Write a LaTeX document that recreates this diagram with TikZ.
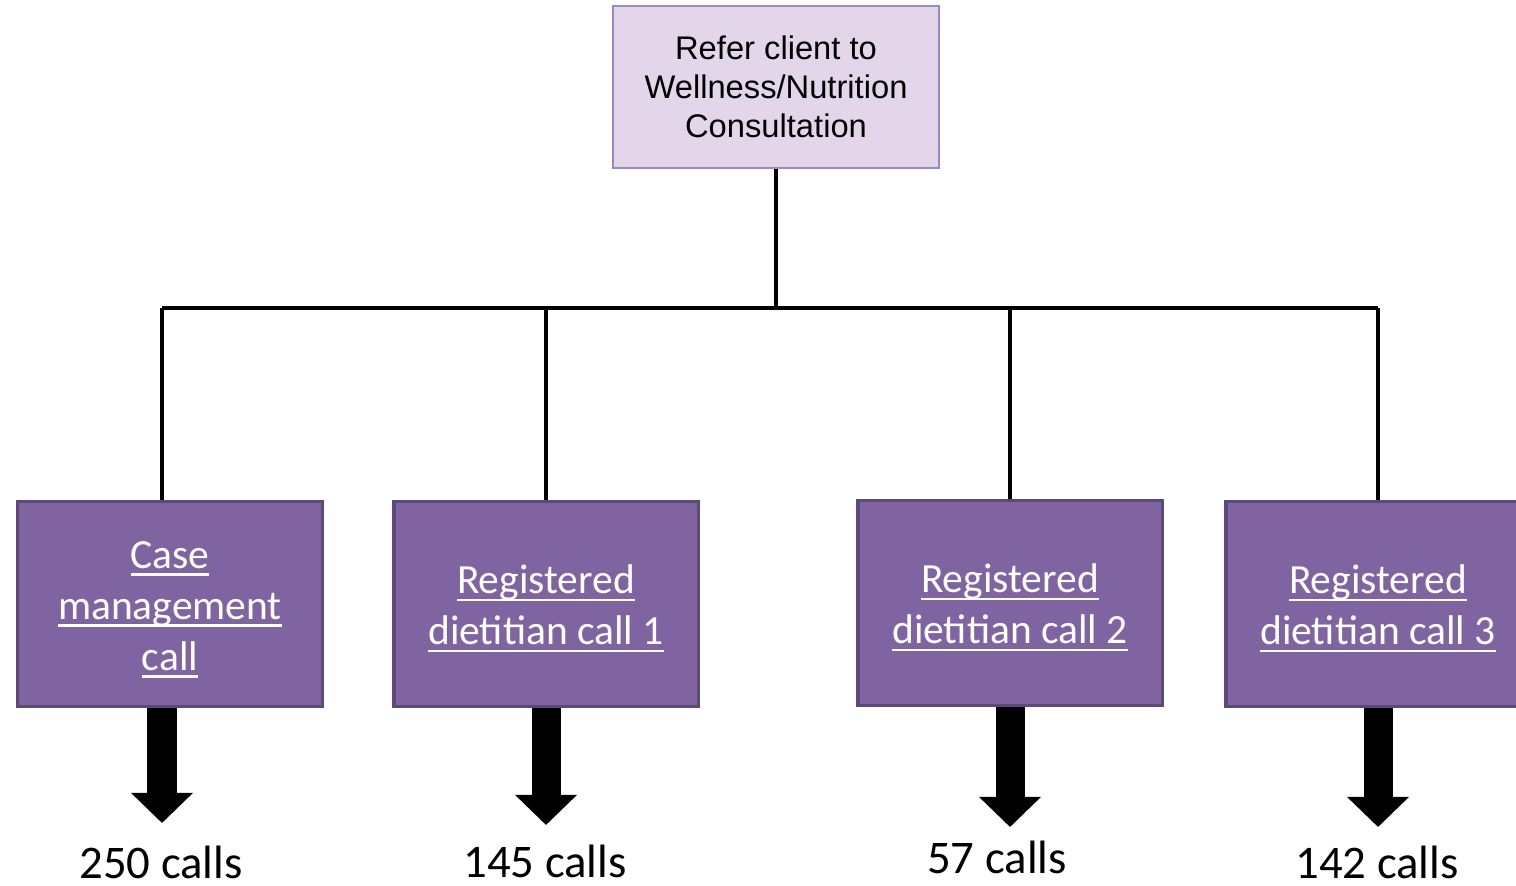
\documentclass[tikz,border=0pt]{standalone}
\usepackage{fontspec}
\setmainfont{Carlito}
\newfontfamily\arialfont{Liberation Sans}
\usetikzlibrary{arrows.meta}

\definecolor{lilac}{HTML}{E4D6EA}
\definecolor{lilacline}{HTML}{A385C0}
\definecolor{plum}{HTML}{8064A2}
\definecolor{plumline}{HTML}{5D4878}

\newsavebox{\undlbox}
\newcommand{\undl}[1]{\sbox{\undlbox}{#1}\leavevmode\rlap{\rule[-0.19em]{\wd\undlbox}{0.7pt}}\usebox{\undlbox}}
\newcommand{\toppad}{\rule{0pt}{0.38cm}}

\tikzset{
	referbox/.style={draw=lilacline, fill=lilac, line width=0.6pt, minimum width=3.26cm, minimum height=1.62cm, align=center, font=\arialfont\fontsize{9.3pt}{11pt}\selectfont},
	callbox/.style={draw=plumline, fill=plum, line width=0.9pt, minimum width=3.04cm, minimum height=2.05cm, align=center, text=white, font=\fontsize{11.8pt}{14.5pt}\selectfont},
	countlabel/.style={anchor=base, font=\fontsize{13.3pt}{16pt}\selectfont},
	wire/.style={line width=1.05pt},
	flow/.style={line width=0.29cm, -{Triangle[width=0.6cm, length=0.3cm]}}
}

\begin{document}
\begin{tikzpicture}[x=0.01cm, y=-0.01cm]
	\path[use as bounding box] (0, 0) rectangle (1516, 886);
	\clip (0, 0) rectangle (1516, 886);

	\node[referbox] (refer) at (776, 87) {Refer client to\\Wellness/Nutrition\\Consultation};

	\node[callbox] (case) at (170, 604) {\toppad\undl{Case}\\\undl{management}\\\undl{call}};
	\node[callbox] (rd1) at (546, 604) {\toppad\undl{Registered}\\\undl{dietitian call 1}};
	\node[callbox] (rd2) at (1010, 603) {\toppad\undl{Registered}\\\undl{dietitian call 2}};
	\node[callbox] (rd3) at (1378, 604) {\toppad\undl{Registered}\\\undl{dietitian call 3}};

	\coordinate (hub) at (776, 308);
	\coordinate (j1) at (162, 308);
	\coordinate (j2) at (546, 308);
	\coordinate (j3) at (1010, 308);
	\coordinate (j4) at (1378, 308);

	\draw[wire] (refer.south) -- (hub);
	\draw[wire] (j1) -- (j4);
	\draw[wire] (j1) -- (j1 |- case.north);
	\draw[wire] (j2) -- (rd1.north);
	\draw[wire] (j3) -- (rd2.north);
	\draw[wire] (j4) -- (rd3.north);

	\coordinate (t1) at (162, 823);
	\coordinate (t2) at (546, 825);
	\coordinate (t3) at (1010, 827);
	\coordinate (t4) at (1378, 827);

	\draw[flow] (case.south -| t1) -- (t1);
	\draw[flow] (rd1.south) -- (t2);
	\draw[flow] (rd2.south) -- (t3);
	\draw[flow] (rd3.south) -- (t4);

	\node[countlabel] (n1) at (161, 878) {250 calls};
	\node[countlabel] (n2) at (545, 877) {145 calls};
	\node[countlabel] (n3) at (997, 873) {57 calls};
	\node[countlabel] (n4) at (1377, 878) {142 calls};

\end{tikzpicture}
\end{document}
